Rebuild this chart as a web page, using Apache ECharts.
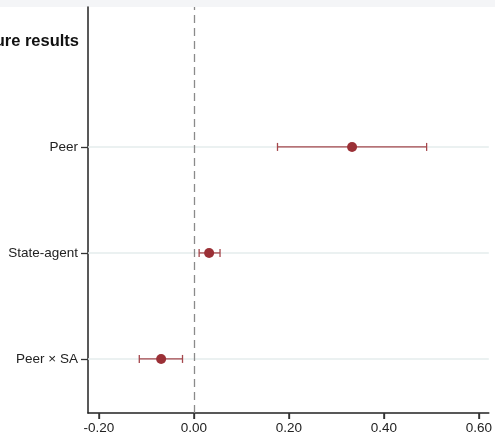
<!DOCTYPE html>
<html>
<head>
<meta charset="utf-8">
<script src="https://cdn.jsdelivr.net/npm/echarts@6/dist/echarts.min.js"></script>
<style>
    html, body { margin: 0; padding: 0; background: #fff; }
    #chart { width: 495px; height: 435px; }
</style>
</head>
<body>
<div id="chart"></div>
<script>
// 系数与置信区间
var terms = ['Peer × SA', 'State-agent', 'Peer'];
var termPos = [1, 2, 3];
var estimates = [-0.069, 0.032, 0.333];
var ciLow = [-0.115, 0.011, 0.176];
var ciHigh = [-0.024, 0.055, 0.490];
var xTicks = [-0.2, 0, 0.2, 0.4, 0.6];

var xMin = -0.223, xMax = 0.621;
var yMin = 0.49, yMax = 4.32;

var chart = echarts.init(document.getElementById('chart'));

var barData = [];
var pointData = [];
for (var i = 0; i < terms.length; i++) {
    barData.push([ciLow[i], ciHigh[i], termPos[i]]);
    pointData.push([estimates[i], termPos[i]]);
}
var tickData = xTicks.map(function (v) { return [v, yMin]; });

var option = {
    backgroundColor: '#ffffff',
    animation: false,
    textStyle: {
        fontFamily: 'Liberation Sans, Arial, sans-serif'
    },
    graphic: [{
        type: 'rect',
        left: 0,
        top: 0,
        shape: { width: 495, height: 7 },
        style: { fill: '#f4f5f7' },
        silent: true
    }, {
        type: 'text',
        right: 416,
        top: 33,
        style: {
            text: 'Structure results',
            fill: '#111',
            font: 'bold 16.5px Liberation Sans, Arial, sans-serif'
        }
    }],
    grid: {
        left: 88,
        right: 5,
        top: 7,
        bottom: 22
    },
    xAxis: {
        type: 'value',
        min: xMin,
        max: xMax,
        axisLine: { show: true, onZero: false, lineStyle: { color: '#222', width: 1.5 } },
        axisTick: {
            show: true,
            length: 6,
            customValues: xTicks,
            lineStyle: { color: '#333', width: 1.3 }
        },
        axisLabel: {
            customValues: xTicks,
            color: '#222',
            fontSize: 13.5,
            margin: 8,
            formatter: function (v) { return v.toFixed(2); }
        },
        splitLine: { show: false }
    },
    yAxis: {
        type: 'value',
        min: yMin,
        max: yMax,
        axisLine: { show: true, onZero: false, lineStyle: { color: '#222', width: 1.5 } },
        axisTick: {
            show: true,
            length: 7,
            customValues: termPos,
            lineStyle: { color: '#333', width: 1.3 }
        },
        axisLabel: {
            customValues: termPos,
            color: '#222',
            fontSize: 13.5,
            margin: 10,
            formatter: function (v) {
                var idx = termPos.indexOf(Math.round(v));
                return idx >= 0 ? terms[idx] : '';
            }
        },
        splitLine: { show: false }
    },
    series: [{
        type: 'custom',
        renderItem: function (params, api) {
            var y = api.value(2);
            var a = api.coord([api.value(0), y]);
            var b = api.coord([api.value(1), y]);
            var h = 4;
            var style = { stroke: '#a5474c', lineWidth: 1.3 };
            return {
                type: 'group',
                children: [
                    { type: 'line', shape: { x1: a[0], y1: a[1], x2: b[0], y2: b[1] }, style: style },
                    { type: 'line', shape: { x1: a[0], y1: a[1] - h, x2: a[0], y2: a[1] + h }, style: style },
                    { type: 'line', shape: { x1: b[0], y1: b[1] - h, x2: b[0], y2: b[1] + h }, style: style }
                ]
            };
        },
        encode: { x: [0, 1], y: 2 },
        data: barData,
        z: 3,
        markLine: {
            silent: true,
            symbol: 'none',
            label: { show: false },
            data: [
                { yAxis: 1, lineStyle: { color: '#e4eded', width: 1.5, type: 'solid' } },
                { yAxis: 2, lineStyle: { color: '#e4eded', width: 1.5, type: 'solid' } },
                { yAxis: 3, lineStyle: { color: '#e4eded', width: 1.5, type: 'solid' } },
                { xAxis: 0, lineStyle: { color: '#8a8a8a', width: 1.3, type: [8, 5] } }
            ],
            z: 1
        }
    }, {
        type: 'scatter',
        symbol: 'circle',
        symbolSize: 10,
        itemStyle: { color: '#9b3036', opacity: 1 },
        data: pointData,
        z: 4
    }, {
        // x轴刻度线
        type: 'custom',
        silent: true,
        clip: false,
        renderItem: function (params, api) {
            var p = api.coord([api.value(0), api.value(1)]);
            return {
                type: 'line',
                shape: { x1: p[0], y1: p[1], x2: p[0], y2: p[1] + 6 },
                style: { stroke: '#333', lineWidth: 1.3 }
            };
        },
        encode: { x: 0, y: 1 },
        data: tickData,
        z: 5
    }]
};

chart.setOption(option);
</script>
</body>
</html>
